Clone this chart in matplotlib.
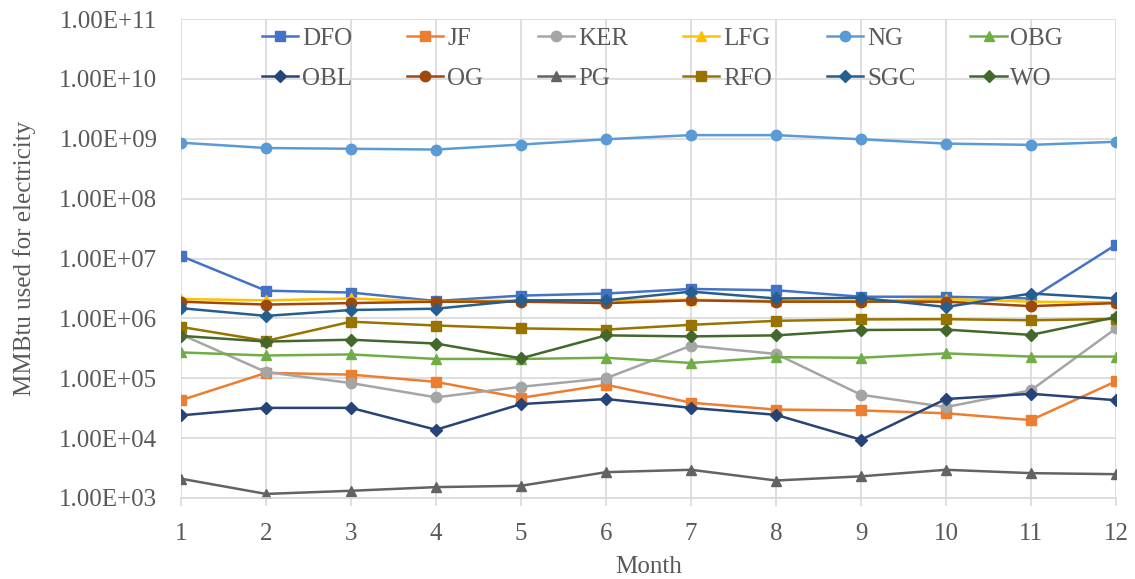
import matplotlib
matplotlib.use('Agg')
import matplotlib.pyplot as plt
from matplotlib.ticker import FuncFormatter

plt.rcParams['font.family'] = ['Liberation Serif', 'DejaVu Serif']

months = list(range(1, 13))

dfo = [1.1e7, 2.9e6, 2.7e6, 1.95e6, 2.4e6, 2.6e6, 3.1e6, 2.95e6, 2.3e6, 2.3e6, 2.15e6, 1.7e7]
jf = [4.3e4, 1.23e5, 1.15e5, 8.7e4, 4.7e4, 7.8e4, 3.9e4, 3.0e4, 2.9e4, 2.6e4, 2.0e4, 8.9e4]
ker = [5.4e5, 1.27e5, 8.3e4, 4.8e4, 7.2e4, 1.0e5, 3.5e5, 2.55e5, 5.3e4, 3.3e4, 6.3e4, 6.8e5]
lfg = [2.1e6, 2.0e6, 2.15e6, 1.9e6, 2.0e6, 2.0e6, 2.05e6, 1.95e6, 1.95e6, 2.1e6, 1.9e6, 1.85e6]
ng = [8.6e8, 7.0e8, 6.8e8, 6.6e8, 8.0e8, 9.8e8, 1.15e9, 1.15e9, 9.8e8, 8.3e8, 7.9e8, 8.9e8]
obg = [2.7e5, 2.4e5, 2.5e5, 2.1e5, 2.1e5, 2.2e5, 1.8e5, 2.25e5, 2.2e5, 2.6e5, 2.3e5, 2.3e5]
obl = [2.4e4, 3.2e4, 3.2e4, 1.38e4, 3.7e4, 4.5e4, 3.2e4, 2.45e4, 9.4e3, 4.5e4, 5.5e4, 4.3e4]
og = [1.9e6, 1.7e6, 1.8e6, 1.9e6, 1.9e6, 1.8e6, 2.0e6, 1.9e6, 1.9e6, 1.9e6, 1.6e6, 1.8e6]
pg = [2.1e3, 1.17e3, 1.32e3, 1.52e3, 1.6e3, 2.7e3, 2.96e3, 1.96e3, 2.3e3, 2.96e3, 2.6e3, 2.5e3]
rfo = [7.2e5, 4.2e5, 8.8e5, 7.6e5, 6.8e5, 6.5e5, 7.8e5, 9.1e5, 9.6e5, 9.7e5, 9.3e5, 9.8e5]
sgc = [1.48e6, 1.1e6, 1.38e6, 1.45e6, 2.0e6, 2.0e6, 2.8e6, 2.15e6, 2.2e6, 1.55e6, 2.6e6, 2.15e6]
wo = [5.1e5, 4.1e5, 4.4e5, 3.8e5, 2.15e5, 5.2e5, 5.0e5, 5.2e5, 6.4e5, 6.5e5, 5.3e5, 1.05e6]

series = [
    ('DFO', dfo, '#4472C4', 's'),
    ('JF', jf, '#ED7D31', 's'),
    ('KER', ker, '#A5A5A5', 'o'),
    ('LFG', lfg, '#FFC000', '^'),
    ('NG', ng, '#5B9BD5', 'o'),
    ('OBG', obg, '#70AD47', '^'),
    ('OBL', obl, '#264478', 'D'),
    ('OG', og, '#9E480E', 'o'),
    ('PG', pg, '#636363', '^'),
    ('RFO', rfo, '#997300', 's'),
    ('SGC', sgc, '#255E91', 'D'),
    ('WO', wo, '#43682B', 'D'),
]

fig = plt.figure(figsize=(11.35, 5.79), dpi=100)
ax = fig.add_axes([181 / 1135, 1 - 498 / 579, 935 / 1135, 479 / 579])

lines = []
for name, vals, color, marker in series:
    ms = 6 if marker == 'D' else 7.5
    ln, = ax.plot(months, vals, color=color, marker=marker, markersize=ms, lw=1.8, label=name)
    lines.append(ln)

ax.set_yscale('log')
ax.set_ylim(1e3, 1e11)
ax.set_xlim(1, 12)
ax.set_xticks(months)
ax.set_yticks([10.0 ** k for k in range(3, 12)])
ax.yaxis.set_minor_locator(matplotlib.ticker.NullLocator())
ax.yaxis.set_major_formatter(FuncFormatter(lambda v, p: '%.2E' % v))

ax.grid(True, color='#D9D9D9', lw=1.2)
ax.set_axisbelow(True)
for s in ['top', 'right', 'left']:
    ax.spines[s].set_visible(False)
ax.spines['bottom'].set_color('#D9D9D9')
ax.spines['bottom'].set_linewidth(1.2)
ax.tick_params(axis='x', colors='#595959', labelsize=18, length=6, width=1.2, color='#D9D9D9', pad=12)
ax.tick_params(axis='y', colors='#595959', labelsize=18, length=0, pad=17)

ax.set_xlabel('Month', fontsize=18, color='#595959', labelpad=8)
ax.set_ylabel('MMBtu used for electricity', fontsize=18, color='#595959', labelpad=17)

# legend fills by column, so reorder to read row by row like the original
order = [0, 6, 1, 7, 2, 8, 3, 9, 4, 10, 5, 11]
ax.legend([lines[i] for i in order], [series[i][0] for i in order],
          loc='center', bbox_to_anchor=(0.515, 0.918), ncol=6, frameon=False,
          fontsize=18, handlelength=1.45, handletextpad=0.15, columnspacing=2.2,
          labelspacing=0.7, labelcolor='#595959')

fig.savefig('out.png', dpi=100)
